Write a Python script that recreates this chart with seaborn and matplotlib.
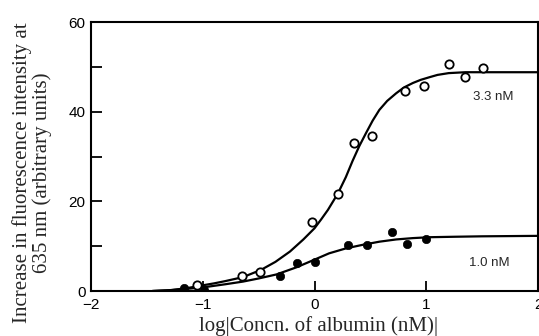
import matplotlib
matplotlib.use("Agg")
import matplotlib.pyplot as plt
import seaborn as sns
import pandas as pd
from matplotlib.ticker import MultipleLocator

# Data points
x_33 = [-1.05, -0.645, -0.485, -0.02, 0.21, 0.35, 0.51, 0.81, 0.976, 1.2, 1.35, 1.51]
y_33 = [1.3, 3.3, 4.2, 15.5, 21.6, 33.0, 34.5, 44.6, 45.8, 50.7, 47.7, 49.7]
x_10 = [-1.17, -0.99, -0.31, -0.16, 0.0, 0.30, 0.47, 0.69, 0.83, 1.0]
y_10 = [0.7, 0.15, 3.3, 6.25, 6.4, 10.3, 10.3, 13.1, 10.5, 11.6]

# Fitted curves
cx_33 = [-1.45, -1.29, -1.15, -1.04, -0.9, -0.8, -0.64, -0.48, -0.35, -0.22, -0.1, 0.0, 0.06,
         0.12, 0.21, 0.28, 0.34, 0.40, 0.46, 0.52, 0.58, 0.65, 0.73, 0.80, 0.88, 0.95, 1.03,
         1.1, 1.2, 1.35, 1.5, 2.0]
cy_33 = [0.0, 0.2, 0.6, 1.1, 1.7, 2.2, 3.1, 4.7, 6.5, 8.8, 11.5, 14.0, 16.0,
         18.1, 21.8, 25.4, 29.0, 32.3, 35.2, 38.0, 40.4, 42.4, 44.1, 45.4, 46.4, 47.1, 47.7,
         48.2, 48.6, 48.8, 48.8, 48.8]
cx_10 = [-1.45, -1.3, -1.18, -1.0, -0.8, -0.64, -0.5, -0.34, -0.16, 0.0, 0.13, 0.28, 0.43,
         0.58, 0.73, 0.88, 1.03, 1.25, 1.5, 2.0]
cy_10 = [0.0, 0.15, 0.4, 0.8, 1.5, 2.1, 2.8, 3.7, 5.3, 7.0, 8.4, 9.5, 10.3,
         11.0, 11.5, 11.8, 12.0, 12.1, 12.2, 12.3]

labels = ["3.3 nM", "1.0 nM"]
x_ticks = [-2, -1, 0, 1, 2]
y_ticks = [0, 20, 40, 60]

sns.set_style("ticks")
plt.rcParams['font.family'] = ['Liberation Sans', 'DejaVu Sans']

fig = plt.figure(figsize=(5.39, 3.36), dpi=100)
ax = fig.add_axes([0.1688, 0.1339, 0.8295, 0.8006])

curve_df = pd.concat([
    pd.DataFrame({"x": cx_33, "y": cy_33, "s": labels[0]}),
    pd.DataFrame({"x": cx_10, "y": cy_10, "s": labels[1]}),
])
sns.lineplot(data=curve_df, x="x", y="y", units="s", estimator=None, sort=False,
             color="black", lw=1.6, ax=ax, legend=False)

sns.scatterplot(x=x_33, y=y_33, ax=ax, marker="o", s=36, facecolor="white",
                edgecolor="black", linewidth=1.3, zorder=5)
sns.scatterplot(x=x_10, y=y_10, ax=ax, marker="o", s=36, color="black",
                edgecolor="black", linewidth=0.5, zorder=5)

ax.set_xlim(-2, 2)
ax.set_ylim(0, 60)
ax.set_xticks(x_ticks)
ax.set_xticklabels(["\u22122", "\u22121", "0", "1", "2"])
ax.set_yticks(y_ticks)
ax.yaxis.set_minor_locator(MultipleLocator(10))
ax.tick_params(axis="both", which="both", direction="in", labelsize=11, width=1.3,
               colors="black")
ax.tick_params(axis="y", which="both", length=8, pad=4)
ax.tick_params(axis="x", which="major", length=7, pad=5)
for sp in ax.spines.values():
    sp.set_visible(True)
    sp.set_linewidth(1.5)
    sp.set_color("black")

ax.text(1.42, 43.3, labels[0], fontsize=9.5, ha="left", va="center")
ax.text(1.38, 6.25, labels[1], fontsize=9.5, ha="left", va="center")

serif = ['Liberation Serif', 'DejaVu Serif']
ax.set_xlabel("log|Concn. of albumin (nM)|", family=serif, fontsize=15)
ax.xaxis.set_label_coords(0.509, -0.095)
ax.set_ylabel("Increase in fluorescence intensity at\n635 nm (arbitrary units)",
              family=serif, fontsize=15, linespacing=1.0)
ax.yaxis.set_label_coords(-0.087, 0.44)

fig.savefig("out.png", dpi=100)
